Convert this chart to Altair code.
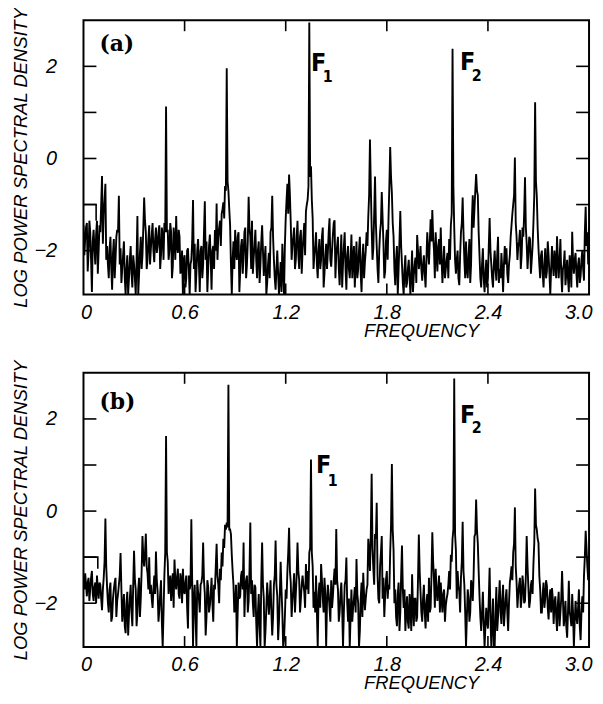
import altair as alt
import pandas as pd

# ---------------- data ----------------
# values at f = 0.00, 0.01, ..., 3.00
psd_a = [
    -1.45, -1.75, -1.40, -2.05, -1.60, -2.90, -1.55, -2.30, -1.35, -2.00,
    -1.60, -0.38, -1.20, -0.55, -1.90, -2.60, -1.70, -2.85, -1.75, -2.20,
    -1.55, -0.81, -1.95, -2.40, -1.80, -2.95, -2.10, -2.60, -1.90, -2.80,
    -2.30, -2.95, -1.25, -2.50, -1.70, -2.10, -0.85, -1.60, -2.20, -1.45,
    -1.95, -1.40, -2.25, -1.50, -1.90, -1.45, -2.10, -1.70, -1.40, 1.13,
    -1.55, -2.00, -1.60, -2.35, -1.80, -1.25, -2.05, -1.70, -2.40, -2.95,
    -2.10, -2.60, -1.95, -2.95, -2.20, -0.90, -1.85, -2.50, -1.75, -2.90,
    -1.90, -2.30, -0.93, -1.80, -2.40, -1.65, -2.85, -1.90, -1.55, -0.98,
    -1.70, -1.35, -1.20, -0.95, -0.60, 1.96, -0.70, -1.45, -2.95, -1.80,
    -1.55, -2.20, -1.60, -2.45, -1.75, -2.10, -1.50, -2.30, -0.83, -1.70,
    -1.35, -2.15, -1.55, -2.60, -1.80, -2.30, -1.45, -2.55, -1.90, -2.70,
    -2.05, -1.60, -0.81, -2.20, -2.85, -2.00, -2.95, -2.25, -1.85, -2.95,
    -1.30, -0.55, -0.35, -1.40, -1.90, -1.50, -2.20, -1.35, -2.40, -1.55,
    -2.00, -1.40, -1.15, -0.90, 2.95, -0.17, -1.30, -2.10, -1.60, -2.60,
    -1.75, -2.20, -1.50, -2.50, -1.85, -2.05, -1.30, -2.35, -1.65, -1.34,
    -2.10, -1.70, -2.75, -1.65, -2.30, -1.60, -2.85, -1.90, -2.60, -1.65,
    -2.20, -2.80, -1.80, -2.40, -1.70, -2.90, -1.85, -2.25, -1.60, -1.26,
    0.41, -1.50, -1.95, -0.39, -1.90, -2.70, -1.60, -0.73, -1.85, -2.45,
    -1.55, -1.30, 0.25, -0.75, -1.70, -2.75, -1.90, -2.40, -1.14, -2.30,
    -2.95, -2.10, -2.70, -2.20, -2.95, -2.00, -2.55, -2.15, -1.66, -2.40,
    -1.90, -2.65, -2.10, -2.80, -1.60, -2.30, -1.32, -1.12, -2.00, -1.60,
    -2.45, -1.75, -1.50, -2.70, -1.90, -2.40, -2.05, -1.75, -1.45, 2.38,
    -1.50, -2.50, -2.00, -2.75, -1.60, -0.85, -2.20, -1.80, -2.60, -1.75,
    -2.30, -0.80, -1.10, -0.34, -0.80, -2.10, -2.80, -1.95, -2.90, -2.20,
    -2.60, -1.29, -2.30, -2.80, -2.00, -2.65, -1.70, -2.40, -2.05, -2.90,
    -1.90, -1.95, -2.70, -2.10, -1.45, -1.00, 0.02, -1.70, -1.90, -1.55,
    -2.10, -1.70, -0.41, -1.85, -2.05, -1.75, -2.20, -1.40, 1.22, -0.82,
    -1.95, -2.60, -2.00, -2.80, -1.95, -2.45, -2.10, -2.95, -1.90, -2.55,
    -2.25, -1.69, -2.60, -1.75, -2.90, -2.30, -2.75, -2.20, -2.90, -2.35,
    -1.59, -2.50, -2.05, -2.80, -2.15, -2.55, -2.00, -2.65, -1.05, -1.60,
    -1.50,
]
# values at f = 0.005, 0.015, ..., 2.995
psd_a_mid = [
    -2.10, -1.50, -2.45, -1.35, -2.20, -1.80, -1.95, -1.65, -2.50, -1.45,
    -1.00, -1.85, -0.90, -2.20, -2.30, -1.95, -2.40, -2.05, -2.60, -1.70,
    -1.60, -2.30, -2.70, -2.10, -2.60, -2.40, -2.95, -2.20, -2.50, -2.10,
    -2.60, -2.20, -2.95, -2.05, -2.40, -1.50, -1.35, -2.40, -1.75, -2.30,
    -1.65, -2.00, -1.75, -2.05, -1.60, -2.40, -1.50, -2.20, -1.60, -1.60,
    -2.20, -1.40, -2.60, -1.50, -2.20, -1.90, -1.55, -2.50, -2.00, -2.20,
    -2.80, -2.00, -2.40, -2.30, -1.80, -2.40, -2.90, -2.00, -2.30, -2.00,
    -2.60, -1.60, -2.20, -2.90, -1.90, -2.20, -2.00, -2.40, -2.00, -2.20,
    -1.50, -1.90, -1.10, -1.30, -0.70, -0.50, -1.10, -2.30, -2.20, -2.40,
    -2.00, -1.70, -2.90, -1.90, -2.50, -1.60, -2.60, -1.80, -1.50, -2.40,
    -2.50, -1.90, -2.20, -2.00, -2.70, -1.80, -2.00, -2.20, -2.95, -2.30,
    -2.60, -1.50, -1.70, -2.60, -2.40, -2.50, -2.60, -2.90, -2.40, -1.90,
    -0.90, -1.20, -0.80, -2.20, -1.70, -2.40, -1.70, -2.10, -1.70, -2.50,
    -1.70, -2.10, -1.00, -0.60, -0.40, -0.90, -2.40, -1.90, -2.30, -2.00,
    -2.40, -1.70, -2.80, -2.10, -2.40, -1.60, -2.20, -2.00, -1.40, -2.60,
    -1.90, -2.40, -2.20, -2.80, -1.90, -2.40, -2.10, -2.40, -2.20, -2.60,
    -1.90, -2.30, -2.60, -2.00, -2.50, -2.20, -2.60, -2.00, -1.90, -0.80,
    -0.60, -2.20, -1.20, -1.40, -2.40, -2.00, -1.40, -1.30, -2.60, -1.80,
    -2.20, -0.60, -0.40, -1.40, -2.40, -2.20, -2.95, -1.80, -1.90, -2.70,
    -2.40, -2.80, -2.40, -2.60, -2.50, -2.90, -2.30, -2.70, -2.00, -2.20,
    -2.40, -2.30, -2.50, -2.20, -2.00, -1.80, -1.80, -1.70, -2.60, -2.10,
    -1.90, -2.30, -2.20, -2.30, -2.60, -2.20, -2.60, -2.20, -1.20, -0.60,
    -2.20, -2.20, -2.60, -2.10, -1.40, -1.60, -2.60, -2.40, -2.10, -2.70,
    -1.30, -1.50, -0.70, -0.70, -1.60, -2.60, -2.30, -2.60, -2.50, -2.80,
    -1.90, -2.00, -2.60, -2.30, -2.40, -2.10, -2.70, -2.60, -2.40, -2.30,
    -2.30, -2.50, -2.30, -1.70, -1.20, -0.80, -1.40, -2.20, -1.80, -2.40,
    -1.50, -1.20, -1.50, -2.40, -1.70, -2.50, -1.90, -0.80, -0.50, -1.50,
    -2.30, -2.10, -2.50, -2.30, -2.60, -1.80, -2.50, -2.40, -2.30, -2.00,
    -2.60, -2.20, -2.20, -2.50, -2.40, -2.00, -2.50, -2.60, -2.10, -2.80,
    -2.20, -2.20, -2.50, -2.30, -2.70, -2.20, -2.40, -1.60, -1.90, -2.30,
]

psd_b = [
    -1.50, -1.35, -1.85, -1.45, -1.70, -1.30, -1.95, -1.55, -1.40, -1.90,
    -1.60, -2.15, -1.45, -0.16, -1.65, -2.20, -1.55, -2.30, -1.70, -1.45,
    -1.95, -1.60, -0.91, -2.40, -1.80, -2.65, -1.75, -2.25, -1.60, -2.50,
    -0.86, -1.70, -2.20, -1.45, -1.90, -0.54, -1.20, -0.49, -1.35, -1.00,
    -1.60, -2.10, -1.40, -0.88, -1.75, -2.15, -1.50, -2.95, -1.40, 1.63,
    -1.10, -1.55, -1.95, -1.35, -1.05, -1.70, -1.25, -1.90, -1.50, -1.25,
    -1.80, -1.40, -2.55, -1.70, -0.18, -2.95, -1.60, -2.95, -1.75, -2.20,
    -1.55, -0.68, -1.80, -2.30, -1.65, -2.05, -1.45, -2.40, -1.70, -0.71,
    -1.60, -1.25, -0.90, -0.60, -0.30, -0.25, 2.74, -0.40, -0.95, -1.60,
    -2.10, -2.95, -1.55, -1.85, -1.30, -0.68, -1.70, -1.40, -1.95, -0.25,
    -1.50, -2.30, -1.65, -2.95, -1.80, -2.95, -0.68, -1.90, -2.60, -1.55,
    -2.25, -1.50, -2.70, -1.60, -0.64, -1.85, -2.40, -1.10, -2.20, -2.80,
    -1.70, -1.30, -0.36, -1.55, -1.95, -1.35, -1.80, -0.68, -1.50, -1.90,
    -1.40, -1.75, -1.15, -1.30, -0.90, 1.12, -1.20, -1.75, -1.40, -2.95,
    -1.55, -1.15, -1.90, -1.45, -2.95, -1.60, -2.10, -1.50, -1.85, -1.25,
    -0.39, -1.70, -2.20, -1.55, -2.95, -1.60, -1.01, -2.40, -2.95, -1.70,
    -2.10, -1.65, -1.04, -2.00, -2.60, -1.55, -1.34, -2.15, -1.70, -0.60,
    -1.30, 0.81, -1.25, -0.50, 0.18, -1.90, -1.20, -0.54, -1.45, -1.85,
    -1.30, -1.60, -0.90, 1.02, -0.85, -1.70, -2.50, -1.55, -2.20, -0.75,
    -2.10, -2.60, -1.85, -2.55, -2.05, -1.37, -2.50, -1.90, -2.30, -0.51,
    -1.75, -2.40, -1.60, -2.55, -1.80, -1.45, -2.10, -0.46, -1.50, -1.25,
    -1.95, -1.40, -1.55, -2.20, -1.70, -2.05, -1.80, -1.30, -0.95, -0.60,
    2.88, -0.85, -1.30, -1.75, -1.45, -0.23, -1.60, -2.95, -1.70, -2.40,
    -1.50, -1.95, -0.55, 0.25, -0.70, -1.85, -2.60, -1.75, -2.95, -2.10,
    -2.55, -1.23, -2.95, -1.90, -2.95, -1.65, -2.30, -1.50, -2.45, -1.60,
    -2.20, -1.70, -2.60, -1.55, -1.20, -0.90, 0.08, -1.55, -1.80, -1.45,
    -1.90, -1.60, -1.95, -0.54, -1.65, -1.95, -1.50, -1.15, 0.49, -0.40,
    -0.69, -1.70, -2.20, -1.55, -1.90, -1.62, -2.35, -1.70, -1.67, -2.45,
    -1.85, -2.60, -1.75, -2.20, -1.30, -2.50, -1.95, -2.75, -1.51, -2.30,
    -1.80, -2.95, -1.95, -2.45, -1.70, -2.80, -1.85, -1.40, -0.43, -1.20,
    -1.35,
]
psd_b_mid = [
    -1.70, -1.60, -1.55, -1.95, -1.45, -1.80, -1.65, -2.00, -1.70, -1.55,
    -1.90, -1.70, -1.10, -1.20, -2.00, -1.70, -2.40, -1.90, -1.55, -2.30,
    -1.80, -1.40, -1.70, -2.10, -2.50, -2.00, -2.70, -1.90, -2.20, -1.60,
    -1.50, -2.50, -1.70, -2.30, -1.30, -1.00, -0.90, -1.20, -1.70, -1.80,
    -1.90, -1.70, -1.80, -1.50, -2.40, -1.80, -2.40, -2.20, -0.90, -0.90,
    -1.80, -1.40, -1.60, -2.10, -1.50, -1.45, -1.80, -1.35, -2.00, -1.70,
    -1.55, -2.10, -1.40, -1.60, -1.50, -1.90, -2.30, -1.50, -1.90, -1.60,
    -1.40, -1.50, -2.70, -1.50, -2.20, -1.80, -2.00, -1.60, -1.20, -1.40,
    -2.00, -1.50, -1.20, -0.80, -0.40, -0.35, -0.40, -0.50, -1.30, -2.20,
    -1.60, -2.20, -1.90, -1.40, -1.70, -2.30, -1.50, -2.20, -1.30, -1.80,
    -2.00, -1.60, -2.40, -2.20, -2.50, -1.50, -1.60, -2.95, -2.10, -1.90,
    -1.90, -2.20, -2.30, -1.40, -1.60, -2.80, -1.80, -1.70, -2.95, -2.30,
    -1.90, -0.90, -1.30, -2.30, -1.70, -2.20, -1.40, -1.30, -2.20, -1.60,
    -1.60, -2.10, -1.70, -1.80, -0.80, -0.90, -2.10, -2.20, -2.20, -1.80,
    -2.10, -1.50, -2.20, -1.80, -2.00, -1.80, -2.40, -2.10, -1.50, -1.60,
    -1.50, -2.40, -1.80, -2.10, -2.20, -1.50, -2.00, -1.90, -2.30, -2.40,
    -1.90, -2.20, -1.80, -2.95, -1.90, -2.30, -1.80, -1.90, -1.60, -0.90,
    -0.50, -0.80, -1.60, -0.60, -1.40, -2.00, -0.90, -1.90, -2.30, -1.50,
    -1.90, -1.70, -0.30, -0.40, -2.00, -2.30, -1.80, -2.60, -1.40, -1.70,
    -1.70, -2.20, -2.40, -1.80, -2.60, -2.10, -1.90, -2.40, -1.50, -1.30,
    -2.20, -1.90, -2.20, -2.00, -2.40, -2.20, -1.40, -1.10, -2.10, -1.70,
    -1.70, -2.20, -1.90, -1.80, -2.40, -1.90, -1.60, -1.70, -1.10, -0.40,
    -0.50, -1.90, -1.60, -2.20, -1.10, -1.30, -2.20, -2.30, -1.90, -2.20,
    -1.60, -1.40, -0.50, -0.40, -1.30, -2.30, -2.20, -2.40, -2.50, -2.40,
    -1.90, -2.30, -2.40, -2.95, -2.20, -2.60, -1.90, -2.20, -1.90, -2.50,
    -1.90, -2.20, -2.00, -1.40, -1.50, -0.70, -1.20, -2.10, -1.60, -2.10,
    -1.40, -2.00, -1.40, -1.20, -2.10, -1.60, -1.80, -0.70, -0.30, -0.60,
    -1.40, -2.20, -1.80, -2.10, -1.50, -2.10, -1.90, -2.20, -1.90, -2.00,
    -2.30, -2.00, -2.50, -1.90, -1.90, -2.30, -2.50, -2.20, -2.20, -2.50,
    -2.20, -2.40, -2.30, -2.10, -2.50, -2.20, -2.20, -1.00, -0.80, -1.50,
]

# small step drawn at the start of each trace
box_f_a = [0.0, 0.075, 0.075]
box_v_a = [-1.0, -1.0, -1.35]
box_f_b = [0.0, 0.085, 0.085]
box_v_b = [-1.0, -1.0, -1.25]

x_ticks = [0.0, 0.6, 1.2, 1.8, 2.4, 3.0]
y_ticks = [-2, -1, 0, 1, 2]
y_labels = [-2, 0, 2]

W, H = 509, 276
Y_DOM = [-2.95, 3.0]
SANS = "Liberation Sans"
NARROW = "Liberation Sans Narrow, DejaVu Sans Condensed, Liberation Sans, sans-serif"
XTITLE = "FREQUENCY"
YTITLE = "LOG POWER SPECTRAL DENSITY"

xs = alt.Scale(domain=[0, 3.0], nice=False, zero=False)
ys = alt.Scale(domain=Y_DOM, nice=False, zero=False)
xax = alt.Axis(
    values=x_ticks,
    labelExpr="datum.value == 0 ? '0' : format(datum.value, '.1f')",
    ticks=False, tickSize=0, domain=False, grid=False,
    labelFont=SANS, labelFontStyle="italic", labelFontSize=20,
    labelColor="black", labelPadding=8, labelFlush=True, labelFlushOffset=3,
    titleFont=SANS, titleFontStyle="italic", titleFontWeight="normal",
    titleFontSize=18.5, titleColor="black",
    titleX=340, titleY=27, titleBaseline="top", titleAlign="center",
)
yax = alt.Axis(
    values=y_labels,
    ticks=False, tickSize=0, domain=False, grid=False,
    labelFont=SANS, labelFontStyle="italic", labelFontSize=20,
    labelColor="black", labelPadding=27, labelFlush=False,
    titleFont=SANS, titleFontStyle="italic", titleFontWeight="normal",
    titleFontSize=18.5, titleColor="black", titleAngle=270,
    titleX=-57, titleY=H / 2, titleBaseline="alphabetic", titleAlign="center",
)


def X(field):
    return alt.X(field, scale=xs, axis=xax, title=XTITLE)


def Y(field):
    return alt.Y(field, scale=ys, axis=yax, title=YTITLE)


def series(main, mid):
    f, v = [], []
    for i, val in enumerate(main):
        f.append(round(i * 0.01, 3))
        v.append(val)
        if i < len(mid):
            f.append(round(i * 0.01 + 0.005, 3))
            v.append(mid[i])
    return pd.DataFrame({"f": f, "v": v})


def panel(main, mid, box_f, box_v, tag, tag_y, f1, f2):
    df = series(main, mid)
    line = alt.Chart(df).mark_line(color="black", strokeWidth=1.9, clip=True).encode(
        x=X("f:Q"), y=Y("v:Q"),
    )
    bdf = pd.DataFrame({"f": box_f, "v": box_v, "o": list(range(len(box_f)))})
    box = alt.Chart(bdf).mark_line(color="black", strokeWidth=1.6).encode(
        x=X("f:Q"), y=Y("v:Q"), order="o:Q",
    )
    ydf = pd.DataFrame({"t": y_ticks})
    xdf = pd.DataFrame({"t": x_ticks[1:-1]})
    rule = dict(color="black", strokeWidth=1.6)
    lt = alt.Chart(ydf).mark_rule(**rule).encode(
        y=Y("t:Q"), x=alt.value(0), x2=alt.value(13))
    rt = alt.Chart(ydf).mark_rule(**rule).encode(
        y=Y("t:Q"), x=alt.value(W - 13), x2=alt.value(W))
    tt = alt.Chart(xdf).mark_rule(**rule).encode(
        x=X("t:Q"), y=alt.value(0), y2=alt.value(11))
    bt = alt.Chart(xdf).mark_rule(**rule).encode(
        x=X("t:Q"), y=alt.value(H - 11), y2=alt.value(H))

    tag_txt = alt.Chart().mark_text(
        text=tag, font="DejaVu Serif", fontWeight="bold", fontSize=22,
        align="left", baseline="middle", color="black",
    ).encode(x=alt.value(16), y=alt.value(tag_y))

    def flabel(pos, sub):
        fx, fy, sx, sy = pos
        a = alt.Chart().mark_text(
            text="F", font=NARROW, fontWeight="bold", fontSize=25,
            align="left", baseline="alphabetic", color="black",
        ).encode(x=alt.value(fx), y=alt.value(fy))
        b = alt.Chart().mark_text(
            text=sub, font=NARROW, fontWeight="bold", fontSize=16,
            align="left", baseline="alphabetic", color="black",
        ).encode(x=alt.value(sx), y=alt.value(sy))
        return a + b

    return alt.layer(
        line, box, lt, rt, tt, bt, tag_txt, flabel(f1, "1"), flabel(f2, "2")
    ).properties(width=W, height=H)


pa = panel(psd_a, psd_a_mid, box_f_a, box_v_a, "(a)", 24,
           (229, 51, 241, 62), (379, 50, 391, 61))
pb = panel(psd_b, psd_b_mid, box_f_b, box_v_b, "(b)", 29,
           (234, 101, 246, 114), (379, 50, 391, 61))

chart = alt.vconcat(pa, pb, spacing=79, bounds="flush").properties(
    padding={"left": 2, "top": -5, "right": 2, "bottom": 2},
    background="white",
).configure_view(stroke="black", strokeWidth=2)

chart.save("out.html", embed_options={"renderer": "svg", "actions": False})
